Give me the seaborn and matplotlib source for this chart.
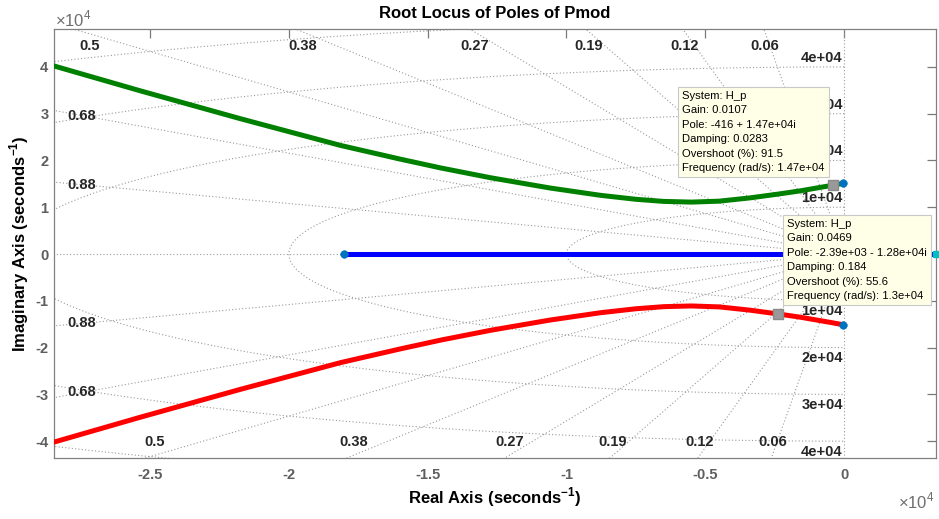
import numpy as np
import pandas as pd
import matplotlib
matplotlib.use("Agg")
import matplotlib.pyplot as plt
import seaborn as sns

# ---- root-locus branches (rad/s) ----
upper_re = [-29000, -28460, -25360, -21730, -18130, -16000, -14530, -12730,
            -10580, -8780, -7500, -6500, -5500, -4500, -3390, -2390, -1580, -416, -50]
upper_im = [41100, 40200, 34900, 28900, 23200, 20300, 18400, 16300,
            14100, 12550, 11700, 11250, 11100, 11300, 12000, 12800, 13500, 14700, 15100]
lower_re = [-29000, -28460, -25360, -21730, -18130, -16000, -14530, -12730,
            -10580, -8780, -7500, -6500, -5500, -4500, -3390, -2390, -1580, -416, -50]
lower_im = [-41100, -40200, -34900, -28900, -23200, -20300, -18400, -16300,
            -14100, -12550, -11700, -11250, -11100, -11300, -12000, -12800, -13500, -14700, -15100]
real_re = [-18000, 3310]
real_im = [0, 0]

# open-loop poles
pole_re = [-50, -50, -18000]
pole_im = [15100, -15100, 0]

# data tips
tip_re = [-416, -2390]
tip_im = [14700, -12800]
tip_text = [
    "System: H_p\nGain: 0.0107\nPole: -416 + 1.47e+04i\nDamping: 0.0283\n"
    "Overshoot (%): 91.5\nFrequency (rad/s): 1.47e+04",
    "System: H_p\nGain: 0.0469\nPole: -2.39e+03 - 1.28e+04i\nDamping: 0.184\n"
    "Overshoot (%): 55.6\nFrequency (rad/s): 1.3e+04",
]

# s-plane grid values
zetas = [0.06, 0.12, 0.19, 0.27, 0.38, 0.5, 0.68, 0.88]
zeta_labels = ["0.06", "0.12", "0.19", "0.27", "0.38", "0.5", "0.68", "0.88"]
wns = [10000, 20000, 30000, 40000, 50000]
wn_labels = ["1e+04", "2e+04", "3e+04", "4e+04"]

xticks = [-25000, -20000, -15000, -10000, -5000, 0]
xticklabels = ["-2.5", "-2", "-1.5", "-1", "-0.5", "0"]
yticks = [-40000, -30000, -20000, -10000, 0, 10000, 20000, 30000, 40000]
yticklabels = ["-4", "-3", "-2", "-1", "0", "1", "2", "3", "4"]

sns.set_style("white")
plt.rcParams["font.family"] = ["Liberation Sans", "DejaVu Sans"]
plt.rcParams["mathtext.fontset"] = "custom"
plt.rcParams["mathtext.rm"] = "Liberation Sans"
plt.rcParams["mathtext.bf"] = "Liberation Sans:bold"

W, H = 939, 519
fig = plt.figure(figsize=(W / 100, H / 100), dpi=100)
L, R, T, B = 54, 936, 29, 458
ax = fig.add_axes([L / W, 1 - B / H, (R - L) / W, (B - T) / H])
XL = (-28460, 3310)
YL = (-43600, 48100)
ax.set_xlim(*XL)
ax.set_ylim(*YL)

# ---- s-plane grid ----
gcol = "#9a9a9a"
gkw = dict(color=gcol, lw=0.8, ls=(0, (1, 2)), zorder=1)
far = 1e5
for z in zetas + [0.0, 1.0]:
    s = np.sqrt(1 - z ** 2)
    ax.plot([0, -z * far], [0, s * far], **gkw)
    if z < 1:
        ax.plot([0, -z * far], [0, -s * far], **gkw)
th = np.linspace(np.pi / 2, 3 * np.pi / 2, 600)
for wn in wns:
    ax.plot(wn * np.cos(th), wn * np.sin(th), **gkw)

lab_kw = dict(fontsize=10.5, fontweight="bold", color="#262626", zorder=3)
for z, lab in zip(zetas, zeta_labels):
    s = np.sqrt(1 - z ** 2)
    if z <= 0.5:
        xt = max(-47500 * z / s, XL[0] + 1300)
        ax.text(xt, 44500, lab, ha="center", va="center", **lab_kw)
        xb = max(-43000 * z / s, XL[0] + 1300)
        ax.text(xb, -40200, lab, ha="center", va="center", **lab_kw)
    else:
        xl = -27450
        yl = -xl * s / z
        ax.text(xl, yl, lab, ha="center", va="center", **lab_kw)
        ax.text(xl, -yl, lab, ha="center", va="center", **lab_kw)
for wn, lab in zip(wns, wn_labels):
    ax.annotate(lab, (0, wn), xytext=(-1, 1.5), textcoords="offset points",
                ha="right", va="bottom", **lab_kw)
    ax.annotate(lab, (0, -wn), xytext=(-1, -2.5), textcoords="offset points",
                ha="right", va="top", **lab_kw)

# ---- locus branches ----
df = pd.concat([
    pd.DataFrame({"re": upper_re, "im": upper_im, "branch": "upper"}),
    pd.DataFrame({"re": lower_re, "im": lower_im, "branch": "lower"}),
    pd.DataFrame({"re": real_re, "im": real_im, "branch": "real"}),
], ignore_index=True)
pal = {"upper": "#008000", "lower": "#ff0000", "real": "#0000ff"}
sns.lineplot(data=df, x="re", y="im", hue="branch", palette=pal, sort=False,
             estimator=None, linewidth=3.6, legend=False, ax=ax, zorder=4,
             solid_capstyle="butt", solid_joinstyle="round")

sns.scatterplot(x=pole_re, y=pole_im, color="#0072BD", s=30, marker="o",
                edgecolor="#0072BD", ax=ax, zorder=5)
ax.plot([XL[1]], [0], marker="s", ms=4.5, color="#00BFBF", clip_on=False, zorder=6)

# data tip markers and boxes
ax.scatter(tip_re, tip_im, marker="s", s=45, color="#999999",
           edgecolor="#8a8a8a", zorder=7)
tip_px = [(682, 91), (787, 219)]
for (px, py), txt in zip(tip_px, tip_text):
    fig.text(px / W, 1 - py / H, txt, ha="left", va="top", fontsize=8.1,
             color="black", linespacing=1.55, zorder=10,
             bbox=dict(boxstyle="square,pad=0.38", fc="#ffffe8", ec="#c8c8c8", lw=0.8))

# ---- axes styling ----
ax.set_xticks(xticks)
ax.set_xticklabels(xticklabels)
ax.set_yticks(yticks)
ax.set_yticklabels(yticklabels)
tick_col = "#5e5e5e"
ax.tick_params(axis="both", direction="in", length=6.5, width=0.9, color="#7a7a7a",
               labelcolor=tick_col, labelsize=10.5, top=True, right=True)
ax.tick_params(axis="x", pad=7)
ax.tick_params(axis="y", pad=4)
for lbl in ax.get_xticklabels() + ax.get_yticklabels():
    lbl.set_fontweight("bold")
for sp in ax.spines.values():
    sp.set_color("#808080")
    sp.set_linewidth(0.9)

ax.text(0.5, 1 + 16 / (B - T), "Root Locus of Poles of Pmod", transform=ax.transAxes,
        ha="center", va="center", fontsize=12, fontweight="bold", color="black")
ax.set_xlabel(r"Real Axis (seconds$^{\mathbf{-1}}$)", fontsize=12,
              fontweight="bold", color="black")
ax.xaxis.set_label_coords(0.5, (B - 485) / (B - T))
ax.set_ylabel(r"Imaginary Axis (seconds$^{\mathbf{-1}}$)", fontsize=12,
              fontweight="bold", color="black")
ax.yaxis.set_label_coords((31 - L) / (R - L), 0.5)

fig.text(55 / W, 1 - 19 / H, r"$\times10^{4}$", ha="left", va="center",
         fontsize=12, color="#6e6e6e")
fig.text(935 / W, 1 - 501 / H, r"$\times10^{4}$", ha="right", va="center",
         fontsize=12, color="#6e6e6e")

fig.savefig("out.png", dpi=100)
